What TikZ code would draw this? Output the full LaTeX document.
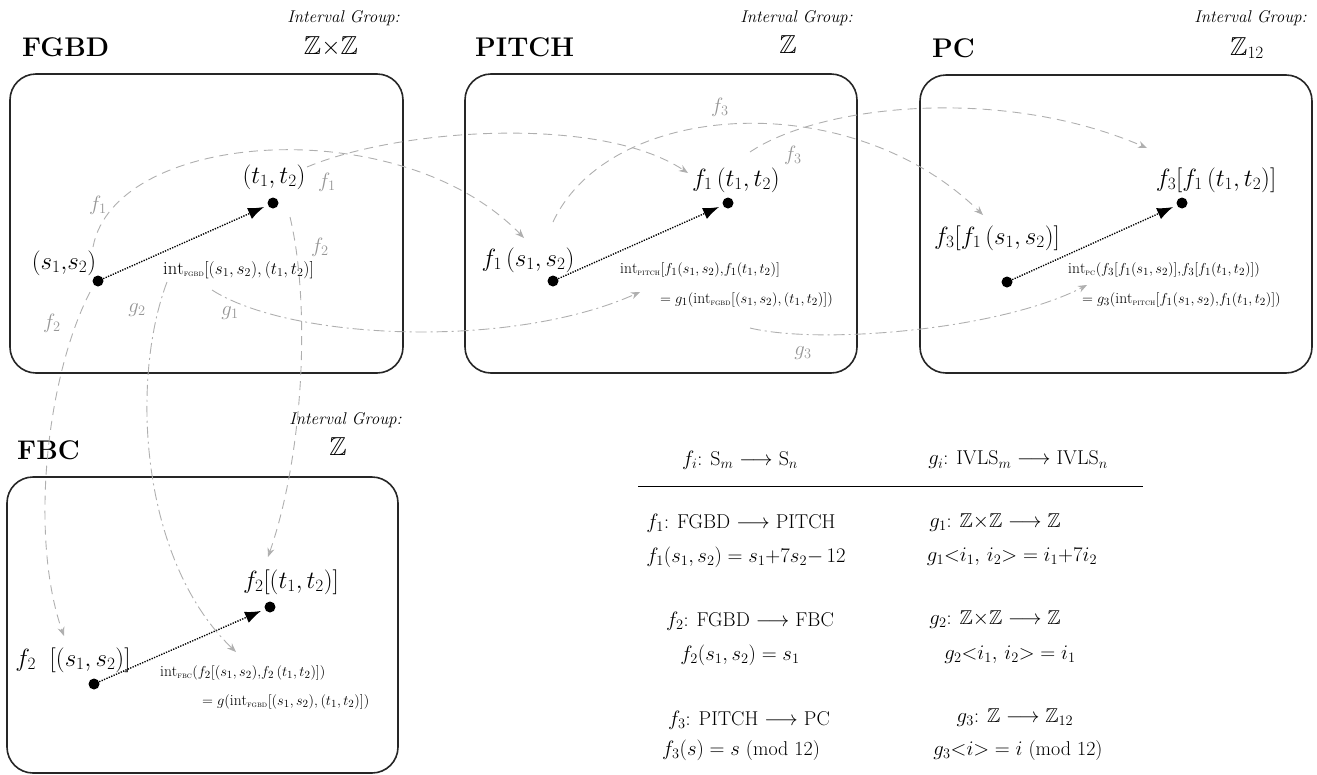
\documentclass[tikz,border=0pt]{standalone}
\usepackage{amsmath,amssymb}
\usepackage{fontspec}
\usetikzlibrary{arrows.meta}
\definecolor{lgray}{RGB}{175,175,175}
\definecolor{tgray}{RGB}{150,150,150}
\newcommand{\fsz}[1]{\fontsize{#1}{#1}\selectfont}
\newcommand{\isub}[1]{\text{\fontsize{8.5}{8.5}\selectfont\textsc{#1}}}
\tikzset{
  box/.style={draw=black!85, line width=1.6pt, rounded corners=26pt},
  dot/.style={circle, fill=black, inner sep=0pt, minimum size=11pt},
  conn/.style={line width=1.4pt, dash pattern=on 1.3pt off 1.3pt, -{Latex[length=16pt,width=12pt]}, shorten >=4pt},
  fmap/.style={lgray, line width=0.9pt, dash pattern=on 9pt off 6pt, -{Stealth[length=9pt,width=7pt]}},
  gmap/.style={lgray, line width=0.9pt, dash pattern=on 11pt off 4pt on 2pt off 4pt, -{Stealth[length=9pt,width=7pt]}},
  title/.style={font=\fsz{27}\bfseries\addfontfeature{LetterSpace=6}, anchor=west, inner sep=0pt},
  igroup/.style={font=\fsz{17}\itshape, anchor=east, inner sep=0pt},
  zgroup/.style={font=\fsz{26}, inner sep=0pt},
  lab/.style={font=\fsz{24}, inner sep=0pt},
  intl/.style={font=\fsz{15.5}, inner sep=0pt, anchor=west},
  glab/.style={text=tgray, font=\fsz{22}, inner sep=0pt},
  tab/.style={font=\fsz{20}, inner sep=0pt},
}
\begin{document}
\begin{tikzpicture}[x=1pt,y=-1pt]
\useasboundingbox (0,0) rectangle (1317,774);
% boxes
\draw[box] (10,74) rectangle (403,373);
\draw[box] (465,74) rectangle (857,373);
\draw[box] (920,75) rectangle (1312,373);
\draw[box] (7,477) rectangle (398,773);
% titles
\node[title] (tA) at (22,47) {FGBD};
\node[title] (tB) at (475,47) {PITCH};
\node[title] (tC) at (932,48) {PC};
\node[title] (tD) at (17,450) {FBC};
\node[igroup] (iA) at (400,18) {Interval Group:};
\node[igroup] (iB) at (853,18) {Interval Group:};
\node[igroup] (iC) at (1307,18) {Interval Group:};
\node[igroup] (iD) at (402,420) {Interval Group:};
\node[zgroup] (zA) at (331,47) {$\mathbb{Z}{\times}\mathbb{Z}$};
\node[zgroup] (zB) at (788,45) {$\mathbb{Z}$};
\node[zgroup] (zC) at (1247,48) {$\mathbb{Z}_{12}$};
\node[zgroup] (zD) at (338,447) {$\mathbb{Z}$};
% dots
\node[dot] (As) at (98,281) {};
\node[dot] (At) at (273,203) {};
\node[dot] (Bs) at (553,281) {};
\node[dot] (Bt) at (728,203) {};
\node[dot] (Cs) at (1007,282) {};
\node[dot] (Ct) at (1182,203) {};
\node[dot] (Ds) at (94,684) {};
\node[dot] (Dt) at (270,607) {};
% labels
\node[lab] (Asl) at (64,263) {$(s_1{,}s_2)$};
\node[lab] (Atl) at (274,177) {$(t_1, t_2)$};
\node[intl, font=\fsz{18.5}] (Ai) at (163,270) {$\mathrm{int}_{\isub{fgbd}}[(s_1{,}\,s_2), (t_1{,}\,t_2)]$};
\node[lab] (Bsl) at (528,260) {$f_1\,(s_1, s_2)$};
\node[lab] (Btl) at (736,180) {$f_1\,(t_1, t_2)$};
\node[intl] (Bi) at (620,270) {$\mathrm{int}_{\isub{pitch}}[f_1(s_1{,}\,s_2){,}f_1(t_1{,}\,t_2)]$};
\node[intl] (Bi2) at (660,300) {$= g_1(\mathrm{int}_{\isub{fgbd}}[(s_1{,}\,s_2), (t_1{,}\,t_2)])$};
\node[lab] (Csl) at (997,238) {$f_3[f_1\,(s_1, s_2)]$};
\node[lab] (Ctl) at (1216,180) {$f_3[f_1\,(t_1, t_2)]$};
\node[intl] (Ci) at (1068,270) {$\mathrm{int}_{\isub{pc}}(f_3[f_1(s_1{,}\,s_2)]{,}f_3[f_1(t_1{,}\,t_2)])$};
\node[intl] (Ci2) at (1082,300) {$= g_3(\mathrm{int}_{\isub{pitch}}[f_1(s_1{,}\,s_2){,}f_1(t_1{,}\,t_2)])$};
\node[lab] (Dsl) at (73,660) {$f_2\;\;[(s_1, s_2)]$};
\node[lab] (Dtl) at (291,582) {$f_2[(t_1, t_2)]$};
\node[intl] (Di) at (160,673) {$\mathrm{int}_{\isub{fbc}}(f_2[(s_1{,}\,s_2){,}f_2\,(t_1{,}\,t_2)])$};
\node[intl] (Di2) at (202,702) {$= g(\mathrm{int}_{\isub{fgbd}}[(s_1{,}\,s_2), (t_1{,}\,t_2)])$};
% in-box arrows
\draw[conn] (As) -- (At);
\draw[conn] (Bs) -- (Bt);
\draw[conn] (Cs) -- (Ct);
\draw[conn] (Ds) -- (Dt);
% connector endpoints
\coordinate (f1s0) at (93,247);
\coordinate (f1s1) at (524,238);
\coordinate (f1t0) at (307,167);
\coordinate (f1t1) at (688,173);
\coordinate (f3s0) at (553,222);
\coordinate (f3s1) at (983,215);
\coordinate (f3t0) at (750,152);
\coordinate (f3t1) at (1147,148);
\coordinate (f2s0) at (90,292);
\coordinate (f2s1) at (64,636);
\coordinate (f2t0) at (290,217);
\coordinate (f2t1) at (268,557);
\coordinate (g2s0) at (167,282);
\coordinate (g2s1) at (236,652);
\coordinate (g1s0) at (212,290);
\coordinate (g1s1) at (640,292);
\coordinate (g3s0) at (750,328);
\coordinate (g3s1) at (1087,285);
% f maps
\draw[fmap] (f1s0) .. controls (115,130) and (400,110) .. (f1s1);
\draw[fmap] (f1t0) .. controls (400,128) and (600,115) .. (f1t1);
\draw[fmap] (f3s0) .. controls (610,100) and (850,85) .. (f3s1);
\draw[fmap] (f3t0) .. controls (820,105) and (1000,85) .. (f3t1);
\draw[fmap] (f2s0) .. controls (45,380) and (30,540) .. (f2s1);
\draw[fmap] (f2t0) .. controls (310,300) and (305,450) .. (f2t1);
% g maps
\draw[gmap] (g1s0) .. controls (290,340) and (510,350) .. (g1s1);
\draw[gmap] (g3s0) .. controls (820,345) and (1000,330) .. (g3s1);
\draw[gmap] (g2s0) .. controls (130,380) and (140,560) .. (g2s1);
% gray labels
\node[glab] (lf1a) at (98,205) {$f_1$};
\node[glab] (lf1b) at (327,182) {$f_1$};
\node[glab] (lf2a) at (320,247) {$f_2$};
\node[glab] (lf2b) at (52,323) {$f_2$};
\node[glab] (lg2) at (137,310) {$g_2$};
\node[glab] (lg1) at (230,313) {$g_1$};
\node[glab] (lf3a) at (720,107) {$f_3$};
\node[glab] (lf3b) at (793,155) {$f_3$};
\node[glab] (lg3) at (803,353) {$g_3$};
% table
\node[tab] (h1) at (740,460) {$f_i$: S$_m\longrightarrow$ S$_n$};
\node[tab] (h2) at (1018,460) {$g_i$: IVLS$_m\longrightarrow$ IVLS$_n$};
\draw[line width=1pt] (638,486) -- (1143,486);
\node[tab] (r1a) at (741,523) {$f_1$: FGBD $\longrightarrow$ PITCH};
\node[tab] (r1b) at (746,557) {$f_1(s_1, s_2) = s_1{+}7s_2{-}\,12$};
\node[tab] (r1c) at (995,523) {$g_1$: $\mathbb{Z}{\times}\mathbb{Z}\longrightarrow\mathbb{Z}$};
\node[tab] (r1d) at (1012,557) {$g_1{<}i_1,\, i_2{>} = i_1{+}7i_2$};
\node[tab] (r2a) at (750,621) {$f_2$: FGBD $\longrightarrow$ FBC};
\node[tab] (r2b) at (740,655) {$f_2(s_1, s_2) = s_1$};
\node[tab] (r2c) at (995,620) {$g_2$: $\mathbb{Z}{\times}\mathbb{Z}\longrightarrow\mathbb{Z}$};
\node[tab] (r2d) at (1010,655) {$g_2{<}i_1,\, i_2{>} = i_1$};
\node[tab] (r3a) at (749,720) {$f_3$: PITCH $\longrightarrow$ PC};
\node[tab] (r3b) at (741,750) {$f_3(s) = s$ (mod 12)};
\node[tab] (r3c) at (1015,718) {$g_3$: $\mathbb{Z}\longrightarrow\mathbb{Z}_{12}$};
\node[tab] (r3d) at (1018,750) {$g_3{<}i{>} = i$ (mod 12)};
\end{tikzpicture}
\end{document}
